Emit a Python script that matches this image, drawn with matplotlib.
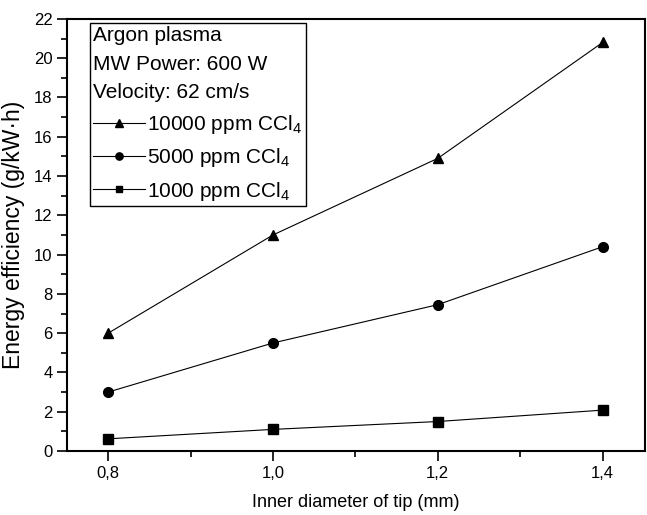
import matplotlib
matplotlib.use("Agg")
import matplotlib.pyplot as plt
from matplotlib.ticker import MultipleLocator

# Datos
diametro = [0.8, 1.0, 1.2, 1.4]
ef_10000 = [6.0, 11.0, 14.9, 20.8]
ef_5000 = [3.0, 5.5, 7.45, 10.4]
ef_1000 = [0.62, 1.1, 1.5, 2.08]
etiquetas = ["10000 ppm CCl$_\\mathregular{4}$",
             "5000 ppm CCl$_\\mathregular{4}$",
             "1000 ppm CCl$_\\mathregular{4}$"]
titulo_leyenda = "Argon plasma\nMW Power: 600 W\nVelocity: 62 cm/s"

plt.rcParams['font.family'] = ['Liberation Sans', 'DejaVu Sans']
plt.rcParams['mathtext.fontset'] = 'custom'
plt.rcParams['mathtext.rm'] = 'Liberation Sans'

fig = plt.figure(figsize=(6.47, 5.15), dpi=100)
ax = fig.add_axes([0.1036, 0.1243, 0.894, 0.839])

estilo = dict(color='black', linewidth=0.8, markersize=7)
ax.plot(diametro, ef_10000, marker='^', label=etiquetas[0], **estilo)
ax.plot(diametro, ef_5000, marker='o', label=etiquetas[1], **estilo)
ax.plot(diametro, ef_1000, marker='s', markersize=6.5, color='black', linewidth=0.8, label=etiquetas[2])

ax.set_xlim(0.75, 1.452)
ax.set_ylim(0, 22)
ax.xaxis.set_major_locator(MultipleLocator(0.2))
ax.xaxis.set_minor_locator(MultipleLocator(0.1))
ax.yaxis.set_major_locator(MultipleLocator(2))
ax.yaxis.set_minor_locator(MultipleLocator(1))
ax.xaxis.set_major_formatter(lambda v, p: f"{v:.1f}".replace('.', ','))
ax.tick_params(which='both', direction='out', width=1.2, labelsize=12)
ax.tick_params(which='major', length=7)
ax.tick_params(which='minor', length=4)
for s in ax.spines.values():
    s.set_linewidth(1.5)

ax.set_xlabel("Inner diameter of tip (mm)", fontsize=13, labelpad=10)
ax.set_ylabel("Energy efficiency (g/kW·h)", fontsize=16.5, labelpad=6)

leg = ax.legend(title=titulo_leyenda, alignment='left', loc='upper left',
                bbox_to_anchor=(0.04, 0.991), borderaxespad=0,
                fontsize=15, title_fontsize=15, numpoints=1, markerscale=0.75,
                handlelength=2.5, handletextpad=0.1, borderpad=0.15,
                labelspacing=0.5, fancybox=False, edgecolor='black',
                framealpha=1)
leg.get_title().set_linespacing(1.65)
leg.get_frame().set_linewidth(1.0)

fig.savefig("out.png", dpi=100)
